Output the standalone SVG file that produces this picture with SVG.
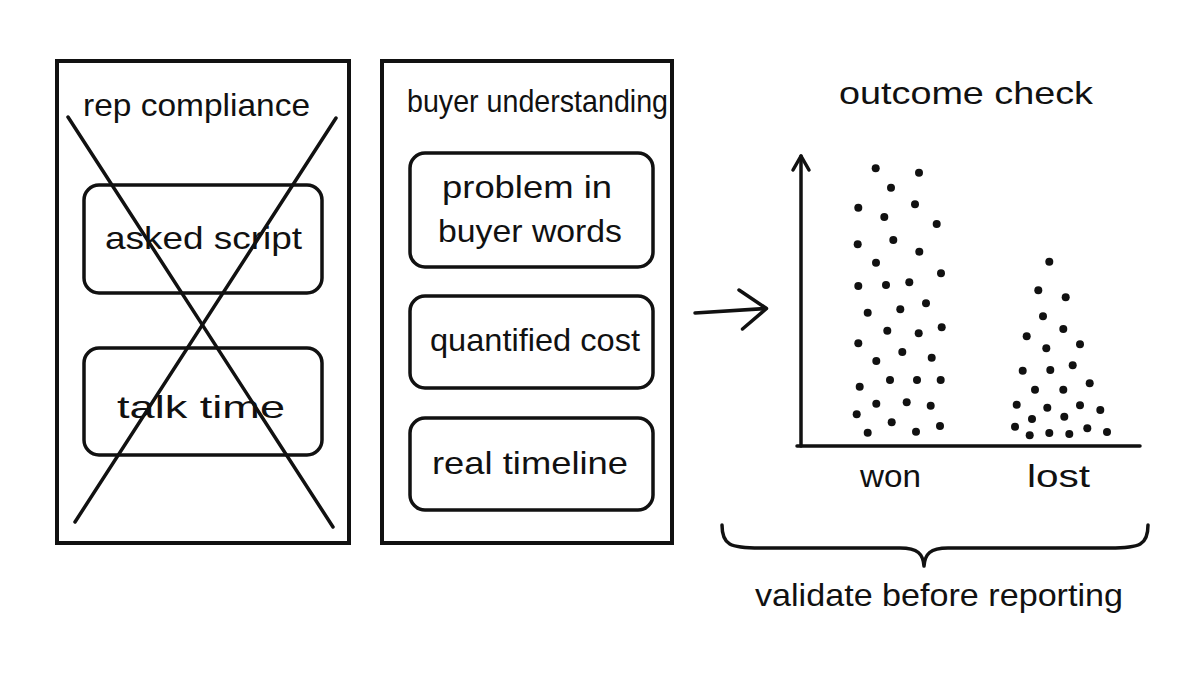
<svg xmlns="http://www.w3.org/2000/svg" width="1200" height="675" viewBox="0 0 1200 675">
<defs>
<style>
.panel{fill:none;stroke:#111;stroke-width:4}
.box{fill:none;stroke:#111;stroke-width:3.5}
.ln{fill:none;stroke:#111;stroke-width:3.5;stroke-linecap:round;stroke-linejoin:round}
.t{font-family:"Liberation Sans","DejaVu Sans",sans-serif;fill:#111;font-size:32px}
.dot{fill:#111}
</style>
</defs>
<rect width="1200" height="675" fill="#fff"/>

<g id="rep-compliance">
<rect class="panel" x="57" y="61" width="292" height="482"/>
<text class="t" x="83" y="116" textLength="227" lengthAdjust="spacingAndGlyphs">rep compliance</text>
<g id="asked-script">
<rect class="box" x="84" y="185" width="238" height="108" rx="15"/>
<text class="t" x="105" y="249" textLength="197" lengthAdjust="spacingAndGlyphs">asked script</text>
</g>
<g id="talk-time">
<rect class="box" x="84" y="348" width="238" height="107" rx="15"/>
<text class="t" x="117" y="418" textLength="168" lengthAdjust="spacingAndGlyphs">talk time</text>
</g>
<line class="ln" x1="68" y1="117" x2="333" y2="527"/>
<line class="ln" x1="336" y1="118" x2="75" y2="522"/>
</g>

<g id="buyer-understanding">
<rect class="panel" x="382" y="61" width="290" height="482"/>
<text class="t" x="407" y="112" font-size="29" textLength="261" lengthAdjust="spacingAndGlyphs">buyer understanding</text>
<g id="problem">
<rect class="box" x="410" y="153" width="243" height="114" rx="15"/>
<text class="t" x="442" y="198" textLength="170" lengthAdjust="spacingAndGlyphs">problem in</text>
<text class="t" x="438" y="242" textLength="184" lengthAdjust="spacingAndGlyphs">buyer words</text>
</g>
<g id="quantified-cost">
<rect class="box" x="410" y="296" width="243" height="92" rx="15"/>
<text class="t" x="430" y="351" textLength="210" lengthAdjust="spacingAndGlyphs">quantified cost</text>
</g>
<g id="real-timeline">
<rect class="box" x="410" y="418" width="243" height="92" rx="15"/>
<text class="t" x="432" y="474" textLength="196" lengthAdjust="spacingAndGlyphs">real timeline</text>
</g>
</g>

<g id="connectors">
<path class="ln" d="M695 313 L766 308.5" stroke-width="6"/>
<path class="ln" d="M739 290 L766.5 308.5 L742.5 329" stroke-width="6"/>
</g>

<g id="outcome-check">
<text class="t" x="839" y="104" textLength="254" lengthAdjust="spacingAndGlyphs">outcome check</text>
<path class="ln" d="M801 446 L801 156"/>
<path class="ln" d="M793 170 L801 156 L809 170"/>
<path class="ln" d="M797 446 L1140 446"/>
<g class="dot">
<circle cx="875.7" cy="168.3" r="4"/><circle cx="919" cy="172.7" r="4"/><circle cx="891" cy="187.7" r="4"/>
<circle cx="858.3" cy="207.7" r="4"/><circle cx="915" cy="204.3" r="4"/><circle cx="884.3" cy="217" r="4"/>
<circle cx="936.7" cy="224" r="4"/><circle cx="857.7" cy="244.3" r="4"/><circle cx="893.3" cy="240" r="4"/>
<circle cx="919.3" cy="251.7" r="4"/><circle cx="876" cy="262.7" r="4"/><circle cx="941" cy="273.3" r="4"/>
<circle cx="858.3" cy="286" r="4"/><circle cx="886" cy="285" r="4"/><circle cx="909.3" cy="282.3" r="4"/>
<circle cx="867.7" cy="312.7" r="4"/><circle cx="900.3" cy="309.3" r="4"/><circle cx="926" cy="303.3" r="4"/>
<circle cx="887.3" cy="330.7" r="4"/><circle cx="918.7" cy="333.3" r="4"/><circle cx="941.7" cy="327.3" r="4"/>
<circle cx="858.3" cy="343.3" r="4"/><circle cx="902.3" cy="352" r="4"/><circle cx="876.3" cy="361" r="4"/>
<circle cx="931.7" cy="357.7" r="4"/><circle cx="859.7" cy="386.7" r="4"/><circle cx="890" cy="380" r="4"/>
<circle cx="917" cy="380" r="4"/><circle cx="940.7" cy="380" r="4"/><circle cx="876.3" cy="403.7" r="4"/>
<circle cx="906.7" cy="402.3" r="4"/><circle cx="930.7" cy="405.7" r="4"/><circle cx="856.7" cy="414.3" r="4"/>
<circle cx="891.7" cy="422.3" r="4"/><circle cx="867.7" cy="432.7" r="4"/><circle cx="916" cy="431.7" r="4"/>
<circle cx="940" cy="426" r="4"/>
<circle cx="1049.3" cy="261.7" r="4"/><circle cx="1038.3" cy="290.3" r="4"/><circle cx="1065.7" cy="297.3" r="4"/>
<circle cx="1043" cy="316.3" r="4"/><circle cx="1063.3" cy="329" r="4"/><circle cx="1026.7" cy="336.3" r="4"/>
<circle cx="1046.3" cy="348.3" r="4"/><circle cx="1080" cy="344.3" r="4"/><circle cx="1022.7" cy="370.7" r="4"/>
<circle cx="1050.3" cy="370" r="4"/><circle cx="1072.7" cy="365.3" r="4"/><circle cx="1035" cy="389.7" r="4"/>
<circle cx="1063.3" cy="389.7" r="4"/><circle cx="1089.7" cy="383.3" r="4"/><circle cx="1016.7" cy="404.7" r="4"/>
<circle cx="1047.3" cy="407.7" r="4"/><circle cx="1080" cy="405.3" r="4"/><circle cx="1100.3" cy="410" r="4"/>
<circle cx="1032" cy="419" r="4"/><circle cx="1064.3" cy="416.7" r="4"/><circle cx="1015" cy="426.7" r="4"/>
<circle cx="1029.7" cy="435.3" r="4"/><circle cx="1049.3" cy="433" r="4"/><circle cx="1069.3" cy="434" r="4"/>
<circle cx="1087.3" cy="428.3" r="4"/><circle cx="1107" cy="432" r="4"/>
</g>
<text class="t" x="860" y="487" textLength="61" lengthAdjust="spacingAndGlyphs">won</text>
<text class="t" x="1027" y="487" textLength="63" lengthAdjust="spacingAndGlyphs">lost</text>
<path class="ln" d="M722 525 C722 545 730 548 760 548 L900 548 C918 548 923 554 924 566 C925 554 930 548 948 548 L1110 548 C1140 548 1148 545 1148 525"/>
<text class="t" x="755" y="606" textLength="368" lengthAdjust="spacingAndGlyphs">validate before reporting</text>
</g>
</svg>
